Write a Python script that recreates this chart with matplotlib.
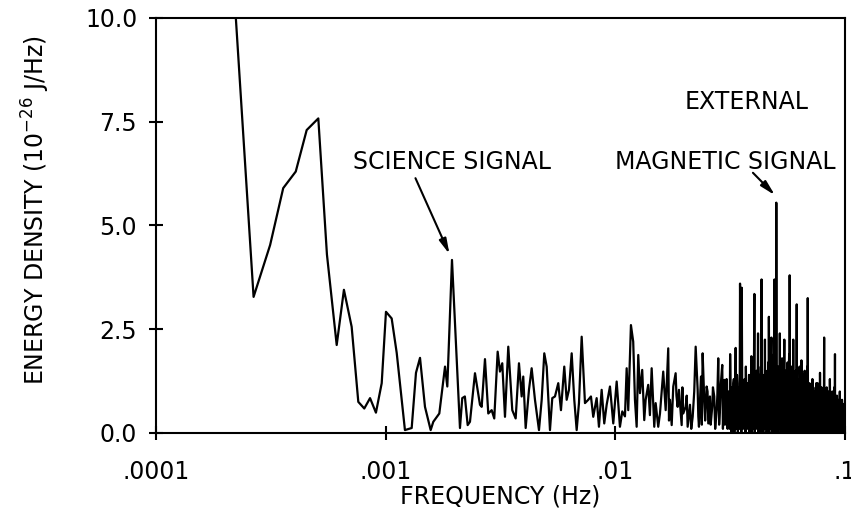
import numpy as np
import matplotlib.pyplot as plt
from matplotlib.ticker import NullLocator

# spectrum below 0.002 Hz, read point by point (Hz, 1e-26 J/Hz)
freq_low = [2.18e-4, 2.66e-4, 3.14e-4, 3.58e-4, 4.06e-4, 4.53e-4, 5.09e-4,
            5.55e-4, 6.12e-4, 6.58e-4, 7.11e-4, 7.60e-4, 8.07e-4, 8.55e-4,
            9.07e-4, 9.61e-4, 1.003e-3, 1.062e-3, 1.117e-3, 1.213e-3,
            1.298e-3, 1.355e-3, 1.411e-3, 1.483e-3, 1.570e-3, 1.612e-3,
            1.712e-3, 1.813e-3, 1.855e-3, 1.944e-3]
dens_low = [10.8, 3.28, 4.53, 5.9, 6.3, 7.3, 7.58,
            4.3, 2.12, 3.45, 2.56, 0.75, 0.59, 0.84,
            0.49, 1.20, 2.92, 2.76, 1.93, 0.07,
            0.12, 1.45, 1.81, 0.63, 0.07, 0.27,
            0.47, 1.60, 1.12, 4.17]

# 0.002 - 0.01 Hz
freq_mid = [2.106e-3, 2.155e-3, 2.212e-3, 2.275e-3, 2.328e-3, 2.448e-3,
            2.574e-3, 2.618e-3, 2.706e-3, 2.797e-3, 2.894e-3, 2.970e-3,
            3.073e-3, 3.145e-3, 3.218e-3, 3.307e-3, 3.418e-3, 3.558e-3,
            3.681e-3, 3.805e-3, 3.909e-3, 3.972e-3, 4.069e-3, 4.206e-3,
            4.321e-3, 4.467e-3, 4.650e-3, 4.778e-3, 4.904e-3, 5.023e-3,
            5.192e-3, 5.313e-3, 5.459e-3, 5.642e-3, 5.797e-3, 5.992e-3,
            6.138e-3, 6.281e-3, 6.454e-3, 6.624e-3, 6.785e-3, 6.943e-3,
            7.134e-3, 7.374e-3, 7.621e-3, 7.830e-3, 8.012e-3, 8.290e-3,
            8.483e-3, 8.716e-3, 8.946e-3, 9.165e-3, 9.474e-3, 9.793e-3,
            1.0132e-2]
dens_mid = [0.12, 0.84, 0.88, 0.19, 0.27, 1.44,
            0.68, 0.63, 1.78, 0.47, 0.55, 0.35,
            1.96, 1.48, 1.68, 0.39, 2.08, 0.55,
            0.35, 1.68, 0.88, 1.36, 0.12, 1.04,
            1.56, 0.80, 0.07, 0.80, 1.92, 1.60,
            0.07, 0.84, 0.88, 1.20, 0.55, 1.60,
            0.80, 1.04, 1.92, 0.80, 0.07, 0.72,
            2.32, 0.72, 0.80, 0.88, 0.39, 0.84,
            0.15, 1.04, 0.23, 0.68, 1.12, 0.23,
            1.24]

# 0.01 - 0.03 Hz
freq_hi = [1.047e-2, 1.072e-2, 1.101e-2, 1.120e-2, 1.138e-2, 1.169e-2,
           1.196e-2, 1.217e-2, 1.238e-2, 1.258e-2, 1.280e-2, 1.309e-2,
           1.336e-2, 1.355e-2, 1.390e-2, 1.414e-2, 1.439e-2, 1.477e-2,
           1.498e-2, 1.537e-2, 1.564e-2, 1.616e-2, 1.656e-2, 1.699e-2,
           1.729e-2, 1.759e-2, 1.787e-2, 1.830e-2, 1.867e-2, 1.892e-2,
           1.944e-2, 1.975e-2, 2.024e-2, 2.064e-2, 2.113e-2, 2.171e-2,
           2.237e-2, 2.282e-2, 2.312e-2, 2.359e-2, 2.399e-2, 2.438e-2,
           2.497e-2, 2.538e-2, 2.581e-2, 2.641e-2, 2.695e-2, 2.761e-2,
           2.805e-2, 2.853e-2, 2.920e-2, 2.979e-2, 3.021e-2]
dens_hi = [0.15, 0.52, 0.40, 1.56, 0.55, 2.60,
           2.20, 0.80, 0.15, 1.88, 0.96, 1.52,
           0.31, 0.80, 1.16, 0.43, 1.56, 0.15,
           0.72, 0.15, 0.47, 1.48, 0.55, 2.04,
           0.80, 0.19, 1.12, 1.44, 0.63, 1.04,
           0.19, 0.47, 0.63, 0.15, 0.68, 0.39,
           2.08, 1.04, 0.15, 1.36, 1.92, 0.80,
           1.12, 0.23, 0.88, 0.63, 0.88, 0.55,
           1.80, 0.55, 1.64, 1.28, 0.80]

# extra wiggles where the trace starts to crowd (0.017 - 0.031 Hz)
freq_fill = [1.712e-2, 1.845e-2, 1.958e-2, 2.045e-2, 2.140e-2, 2.205e-2,
             2.297e-2, 2.380e-2, 2.460e-2, 2.520e-2, 2.600e-2, 2.660e-2,
             2.720e-2, 2.780e-2, 2.830e-2, 2.880e-2, 2.940e-2, 2.960e-2,
             3.000e-2, 3.050e-2, 3.080e-2, 3.110e-2]
dens_fill = [0.3, 0.9, 1.1, 0.9, 0.1, 1.0,
             0.4, 0.2, 0.3, 1.0, 0.2, 1.1,
             0.1, 0.9, 0.2, 1.2, 0.1, 0.7,
             0.2, 1.3, 0.1, 1.0]

# dense part 0.0313 - 0.1 Hz on an even bin grid:
# dens_even on the bins f_start + k*f_step, dens_odd half a step later
f_start = 0.0313
f_step = 3.0e-4
dens_even = [
    0.6, 1.9, 0.3, 1.1, 0.5, 1.3, 0.2, 2.05, 0.7, 1.2,
    0.3, 0.9, 3.6, 1.8, 3.5, 0.4, 1.2, 0.2, 0.9, 1.6,
    0.3, 1.1, 0.5, 1.4, 0.1, 0.8, 1.85, 0.6, 1.3, 0.4,
    3.35, 1.0, 0.3, 1.5, 0.6, 2.4, 0.2, 1.2, 0.7, 1.6,
    3.7, 0.5, 1.4, 0.3, 1.1, 2.25, 0.6, 1.3, 0.2, 1.0,
    1.7, 2.8, 0.4, 1.2, 0.7, 2.3, 0.3, 1.5, 0.8, 1.9,
    3.7, 0.6, 1.3, 5.55, 1.1, 0.4, 1.6, 0.5, 1.2, 2.4,
    0.3, 1.4, 0.6, 1.8, 0.2, 1.1, 0.7, 2.25, 0.4, 1.5,
    0.9, 1.3, 0.2, 1.7, 0.6, 1.0, 1.9, 3.8, 0.5, 1.3,
    0.8, 1.6, 0.3, 1.2, 2.25, 0.6, 1.4, 0.2, 0.9, 1.5,
    0.4, 3.1, 0.7, 1.3, 0.3, 1.1, 0.6, 1.6, 0.2, 0.9,
    1.2, 1.75, 0.4, 1.0, 0.6, 1.4, 0.2, 0.8, 1.5, 0.5,
    1.1, 0.3, 1.3, 0.7, 1.6, 3.25, 0.4, 1.0, 0.6, 1.2,
    0.2, 0.9, 0.5, 1.1, 0.3, 0.8, 1.3, 0.4, 0.9, 0.2,
    1.0, 0.6, 0.8, 0.3, 1.1, 0.5, 0.9, 0.2, 0.7, 1.2,
    0.4, 0.8, 0.3, 1.0, 0.6, 1.45, 0.3, 0.8, 0.5, 1.1,
    0.2, 0.7, 0.9, 0.4, 1.0, 0.6, 2.3, 0.5, 0.8, 0.2,
    0.9, 0.4, 0.7, 1.1, 0.3, 0.8, 0.5, 1.0, 0.2, 0.7,
    0.4, 0.9, 1.3, 0.3, 0.7, 0.5, 0.9, 0.2, 0.6, 1.0,
    0.4, 0.8, 0.3, 0.7, 0.5, 1.1, 0.4, 1.9, 0.5, 0.8,
    0.3, 0.7, 0.5, 0.9, 0.2, 0.6, 0.8, 0.4, 0.7, 0.3,
    0.6, 0.5, 1.0, 0.3, 0.7, 0.4, 0.6, 0.2, 0.5, 0.8,
    0.3, 0.6, 0.4, 0.7, 0.2, 0.5, 0.6, 0.3, 0.5, 0.2]
dens_odd = [
    0.1, 1.0, 0.0, 0.1, 1.2, 0.0, 0.9, 0.1, 1.4, 0.0,
    1.1, 0.1, 2.2, 0.0, 1.3, 0.1, 0.8, 1.3, 0.0, 0.7,
    1.2, 0.1, 0.9, 0.0, 1.1, 0.6, 0.0, 1.2, 0.1, 1.7,
    0.0, 1.3, 0.8, 0.1, 1.1, 0.0, 1.4, 0.2, 1.0, 0.0,
    1.6, 0.9, 0.0, 1.3, 0.1, 0.4, 1.2, 0.0, 1.5, 0.1,
    0.0, 1.0, 1.2, 0.1, 1.8, 0.0, 1.0, 0.2, 1.3, 0.0,
    1.4, 0.1, 0.0, 1.5, 0.2, 1.2, 0.0, 1.0, 0.1, 0.4,
    1.3, 0.0, 1.0, 0.1, 1.2, 0.0, 1.5, 0.1, 1.0, 0.0,
    0.2, 1.1, 0.0, 1.2, 0.1, 1.6, 0.0, 1.4, 0.2, 0.0,
    1.1, 0.1, 1.3, 0.0, 0.2, 1.0, 0.0, 1.2, 0.1, 0.8,
    1.1, 0.0, 1.2, 0.1, 0.8, 1.0, 0.0, 1.1, 0.2, 0.0,
    0.8, 0.1, 1.2, 0.0, 0.9, 0.1, 1.0, 0.0, 0.3, 1.1,
    0.0, 0.9, 0.1, 1.0, 0.0, 0.8, 1.1, 0.1, 0.7, 0.0,
    0.9, 0.1, 0.7, 0.0, 1.0, 0.1, 0.6, 0.8, 0.0, 0.7,
    0.1, 0.9, 0.0, 0.7, 0.2, 1.2, 0.0, 0.6, 0.8, 0.1,
    0.7, 0.0, 0.9, 0.1, 0.6, 0.8, 0.0, 1.0, 0.1, 0.6,
    0.8, 0.0, 0.5, 0.7, 0.1, 0.9, 0.0, 0.6, 0.2, 0.8,
    0.0, 0.1, 0.6, 0.0, 0.9, 0.1, 0.6, 0.0, 0.8, 0.1,
    0.6, 0.0, 0.7, 0.2, 0.0, 0.8, 0.1, 0.6, 0.0, 0.7,
    0.1, 0.6, 0.0, 0.2, 0.8, 0.0, 0.6, 0.1, 0.7, 0.0,
    0.5, 0.1, 0.6, 0.0, 0.7, 0.1, 0.5, 0.0, 0.6, 0.2,
    0.1, 0.7, 0.0, 0.5, 0.6, 0.1, 0.3, 0.6, 0.0, 0.5,
    0.2, 0.1, 0.6, 0.0, 0.5, 0.2, 0.1, 0.4, 0.1]

dens_dense = np.empty(len(dens_even) + len(dens_odd))
dens_dense[0::2] = dens_even
dens_dense[1::2] = dens_odd
freq_dense = f_start + 0.5 * f_step * np.arange(len(dens_dense))

freq = np.concatenate([freq_low, freq_mid, freq_hi, freq_fill, freq_dense])
dens = np.concatenate([dens_low, dens_mid, dens_hi, dens_fill, dens_dense])
order = np.argsort(freq, kind='stable')
freq, dens = freq[order], dens[order]

fig = plt.figure(figsize=(8.51, 5.17), dpi=100)
ax = fig.add_axes([0.1833, 0.1625, 0.8097, 0.8027])

ax.plot(freq, dens, color='black', lw=1.6)

ax.set_xscale('log')
ax.set_xlim(1e-4, 0.1)
ax.set_ylim(0, 10)
ax.set_xticks([1e-4, 1e-3, 1e-2, 1e-1])
ax.set_xticklabels(['.0001', '.001', '.01', '.1'])
ax.xaxis.set_minor_locator(NullLocator())
ax.set_yticks([0, 2.5, 5, 7.5, 10])
ax.set_yticklabels(['0.0', '2.5', '5.0', '7.5', '10.0'])

for s in ax.spines.values():
    s.set_linewidth(1.5)
ax.tick_params(direction='inout', length=10, width=1.5, labelsize=17)
ax.tick_params(axis='x', pad=14.5)
ax.tick_params(axis='y', pad=8.5)

ax.set_xlabel('FREQUENCY (Hz)', fontsize=17)
ax.xaxis.set_label_coords(0.5, -0.125)
ax.set_ylabel(r'ENERGY DENSITY (10$^{-26}$ J/Hz)', fontsize=17)
ax.yaxis.set_label_coords(-0.151, 0.537)

arrow = dict(arrowstyle='-|>,head_width=0.22,head_length=0.9',
             color='black', lw=1.5, shrinkA=0, shrinkB=0)

ax.text(1.954e-3, 6.35, 'SCIENCE SIGNAL', ha='center', va='baseline',
        fontsize=17)
ax.annotate('', xy=(1.896e-3, 4.31), xytext=(1.348e-3, 6.14),
            arrowprops=arrow)

ax.text(3.74e-2, 7.81, 'EXTERNAL', ha='center', va='baseline', fontsize=17)
ax.text(3.0e-2, 6.35, 'MAGNETIC SIGNAL', ha='center', va='baseline',
        fontsize=17)
ax.annotate('', xy=(4.952e-2, 5.73), xytext=(3.972e-2, 6.27),
            arrowprops=arrow)

fig.savefig('out.png', dpi=100)
